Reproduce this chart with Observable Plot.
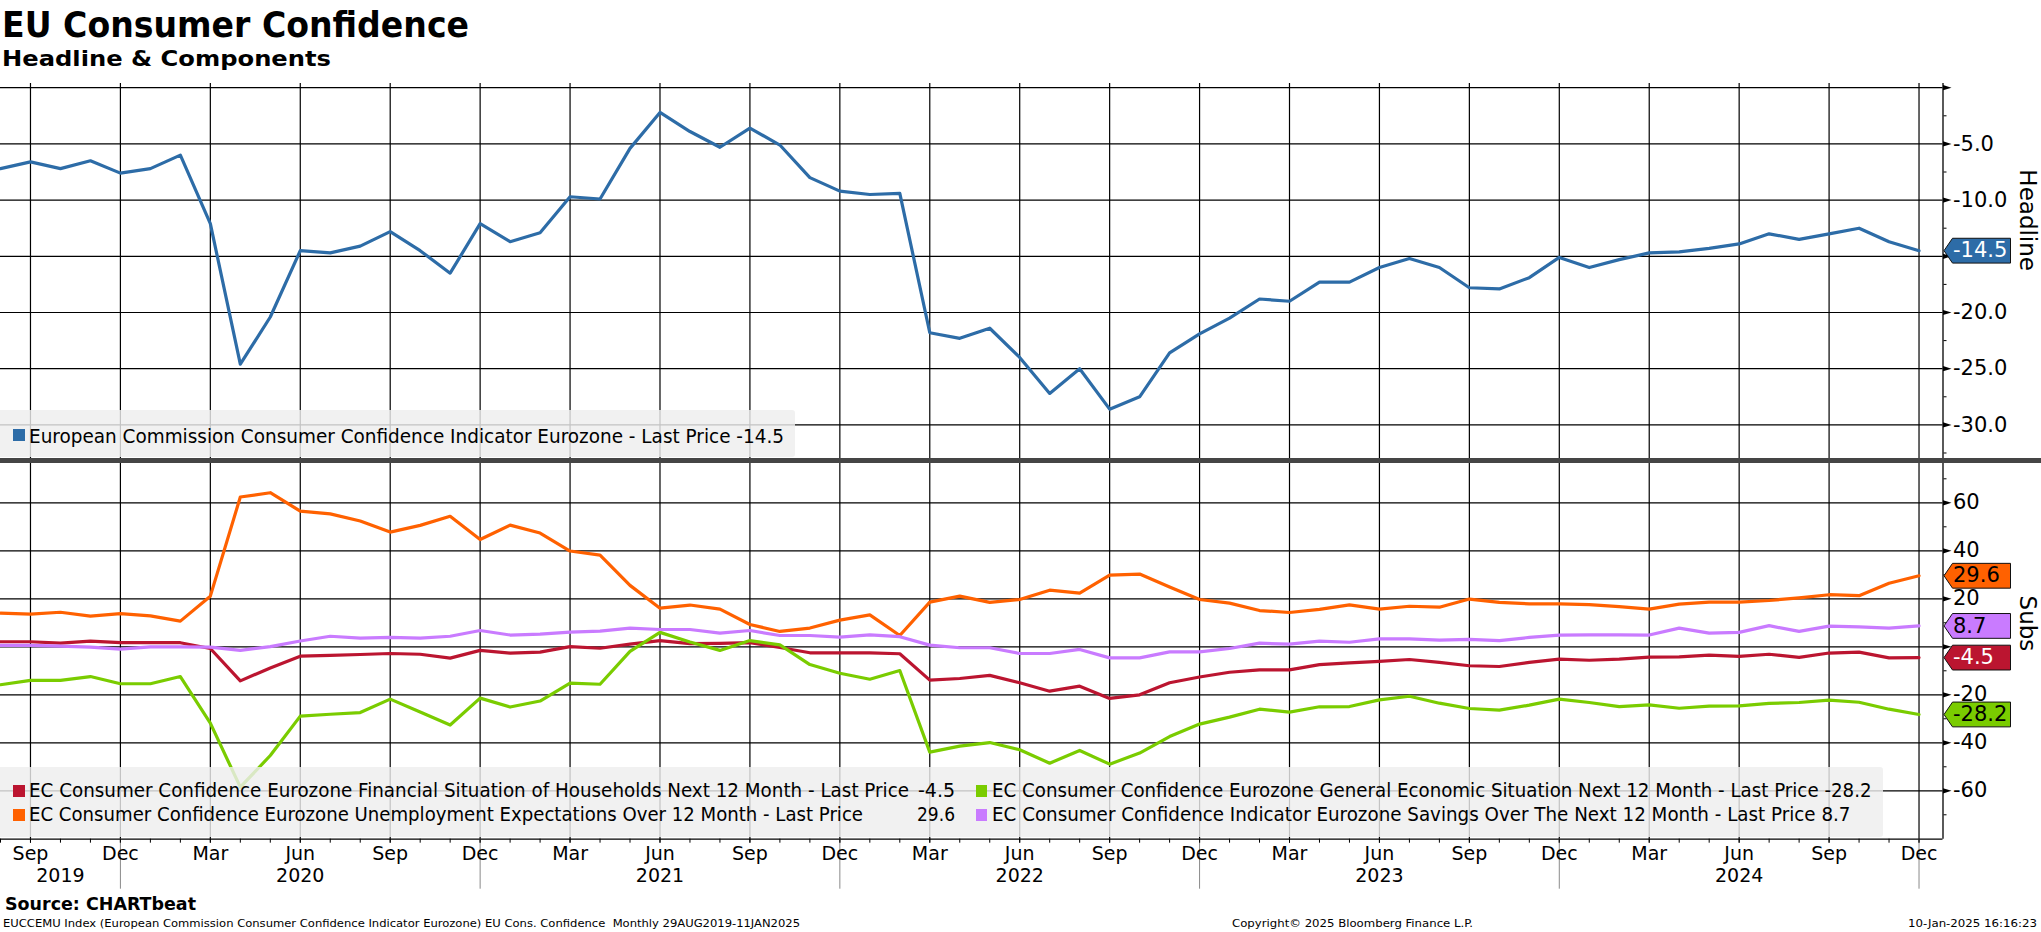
<!DOCTYPE html>
<html><head><meta charset="utf-8">
<script src="https://cdn.jsdelivr.net/npm/d3@7"></script>
<script src="https://cdn.jsdelivr.net/npm/@observablehq/plot@0.6"></script>
<style>
body{margin:0;background:#fff;}
#wrap{position:relative;width:2041px;height:932px;overflow:hidden;background:#fff;}
#wrap > *{position:absolute;}
.t{white-space:pre;transform-origin:0 0;color:#000;}
</style></head><body><div id="wrap"></div>
<script>
// ---------- DATA (monthly, Aug 2019 .. Dec 2024) ----------
const headline = [-7.2,-6.6,-7.2,-6.5,-7.6,-7.2,-6.0,-12.1,-24.6,-20.4,-14.5,-14.7,-14.1,-12.8,-14.5,-16.5,-12.1,-13.7,-12.9,-9.7,-9.9,-5.4,-2.2,-3.9,-5.3,-3.6,-5.1,-8.0,-9.2,-9.5,-9.4,-21.8,-22.3,-21.4,-24.0,-27.2,-25.0,-28.6,-27.5,-23.6,-21.9,-20.5,-18.8,-19.0,-17.3,-17.3,-16.0,-15.2,-16.0,-17.8,-17.9,-16.9,-15.1,-16.0,-15.3,-14.7,-14.6,-14.3,-13.9,-13.0,-13.5,-13.0,-12.5,-13.7,-14.5];
const financialSituation = [2.1,2.1,1.5,2.4,1.7,1.7,1.7,-0.7,-14.2,-8.8,-3.9,-3.6,-3.2,-2.8,-3.1,-4.7,-1.5,-2.6,-2.2,0.1,-0.6,1.1,2.6,1.3,1.4,1.7,-0.3,-2.5,-2.5,-2.5,-2.9,-13.9,-13.2,-11.9,-15.0,-18.5,-16.4,-21.5,-20.0,-15.0,-12.6,-10.6,-9.6,-9.6,-7.4,-6.7,-6.1,-5.3,-6.5,-7.9,-8.2,-6.5,-5.1,-5.6,-5.1,-4.3,-4.2,-3.5,-4.0,-3.1,-4.4,-2.6,-2.2,-4.6,-4.5];
const generalEconomic = [-15.8,-14.0,-14.0,-12.4,-15.4,-15.4,-12.4,-31.8,-58.5,-45.3,-28.9,-28.1,-27.4,-21.8,-27.2,-32.6,-21.4,-25.1,-22.6,-15.1,-15.6,-1.9,6.0,2.0,-1.5,2.6,0.8,-7.4,-11.0,-13.5,-9.9,-43.9,-41.4,-39.9,-42.9,-48.5,-43.2,-48.9,-44.3,-37.4,-32.2,-29.3,-26.0,-27.2,-25.0,-24.9,-22.1,-20.6,-23.5,-25.7,-26.4,-24.3,-21.8,-23.2,-24.9,-24.2,-25.6,-24.7,-24.6,-23.6,-23.2,-22.2,-23.1,-26.0,-28.2];
const unemploymentExpectations = [14.0,13.6,14.4,12.8,13.8,12.9,10.7,21.1,62.4,64.2,56.5,55.4,52.4,47.8,50.6,54.4,44.7,50.7,47.4,39.9,38.2,25.6,16.1,17.4,15.7,9.3,6.4,7.8,11.1,13.3,4.7,18.6,21.1,18.5,19.7,23.6,22.4,29.9,30.3,24.9,19.7,18.2,15.1,14.3,15.6,17.5,15.7,16.9,16.5,19.9,18.5,17.9,17.9,17.6,16.7,15.7,17.8,18.6,18.6,19.3,20.4,21.7,21.3,26.5,29.6];
const savings = [0.6,0.6,0.3,-0.1,-1.0,0.0,0.0,-0.1,-1.5,0.1,2.4,4.4,3.6,3.9,3.6,4.4,6.8,4.9,5.3,6.1,6.5,7.8,7.2,7.2,5.7,6.8,4.7,4.7,4.0,5.0,4.2,0.7,-0.4,-0.4,-2.8,-2.8,-1.1,-4.6,-4.6,-2.1,-2.1,-0.7,1.5,1.1,2.4,1.9,3.3,3.3,2.8,3.1,2.6,3.9,4.9,5.0,5.0,4.9,7.8,5.7,6.0,8.8,6.4,8.6,8.3,7.8,8.7];

const lastPrices = {headline:-14.5, financial:-4.5, general:-28.2, unemployment:29.6, savings:8.7};
const yearLabels = ["2019","2020","2021","2022","2023","2024"];
const topGridValues = [0,-5,-10,-15,-20,-25,-30];
const topTickLabels = [-5,-10,-20,-25,-30];
const topMinorTicks = [-2.5,-7.5,-12.5,-17.5,-22.5,-27.5,-32.5];
const bottomGridValues = [60,40,20,0,-20,-40,-60];
const bottomTickLabels = [60,40,20,-20,-40,-60];
const bottomMinorTicks = [70,50,30,10,-10,-30,-50,-70];

const legendTop = "European Commission Consumer Confidence Indicator Eurozone - Last Price -14.5";
const legendFin = "EC Consumer Confidence Eurozone Financial Situation of Households Next 12 Month - Last Price";
const legendUnemp = "EC Consumer Confidence Eurozone Unemployment Expectations Over 12 Month - Last Price";
const legendGen = "EC Consumer Confidence Eurozone General Economic Situation Next 12 Month - Last Price -28.2";
const legendSav = "EC Consumer Confidence Indicator Eurozone Savings Over The Next 12 Month - Last Price 8.7";

const C = {blue:"#2d6ca7", red:"#bb1530", green:"#7acc00", orange:"#ff6100", purple:"#c97bff"};

// ---------- helpers ----------
const months = d3.utcMonths(new Date(Date.UTC(2019,7,1)), new Date(Date.UTC(2025,0,1)));
const idx = months.map((d,i)=>i);
const quarterIdx = idx.filter(i => months[i].getUTCMonth() % 3 === 2);
const decIdx = idx.filter(i => months[i].getUTCMonth() === 11);
const yearCenter = new Map();
const yearCenters = yearLabels.map((y,k) => { const c = ((k===0?0:decIdx[k-1]) + decIdx[k]) / 2; yearCenter.set(c, y); return c; });
const xDomain = [0, 64.8];
const W = 2041, MR = 98.5;
const rows = arr => arr.map((v,i)=>({i, v}));

const arrowSym = {draw(ctx){ ctx.moveTo(0,-2.6); ctx.lineTo(8.5,0); ctx.lineTo(0,2.6); ctx.closePath(); }};
const badgeSym = {draw(ctx){ ctx.moveTo(1,0); ctx.lineTo(9.5,-12.4); ctx.lineTo(67.5,-12.4); ctx.lineTo(67.5,12.4); ctx.lineTo(9.5,12.4); ctx.closePath(); }};
const badge = (val, fill, textFill) => [
  Plot.dot([val], {y: d=>d, frameAnchor:"right", symbol: badgeSym, r: 4, fill, stroke:"#111", strokeWidth:1}),
  Plot.text([val], {y: d=>d, frameAnchor:"right", dx: 10, textAnchor:"start", text: d=>d.toFixed(1), fill: textFill, fontSize: 21})
];
const gridStyle = {stroke:"#000", strokeOpacity:1, strokeWidth:1.2};
const plotStyle = {fontFamily:"DejaVu Sans", fontSize:"21px", color:"#000", background:"transparent", overflow:"visible"};

// ---------- top panel ----------
const topPlot = Plot.plot({
  width: W, height: 400, marginLeft: 0, marginRight: MR, marginTop: 23, marginBottom: 2,
  style: plotStyle,
  x: {domain: xDomain, axis: null, label: null},
  y: {domain: [-32.99, 0.374], label: null},
  marks: [
    Plot.gridX(quarterIdx, gridStyle),
    Plot.gridY(topGridValues, gridStyle),
    Plot.ruleX([xDomain[1]], {stroke:"#000", strokeWidth:1.3}),
    Plot.line(rows(headline), {x:"i", y:"v", stroke:C.blue, strokeWidth:3.2, strokeLinejoin:"round"}),
    Plot.axisY({anchor:"right", ticks: topMinorTicks, tickSize: 3, tickFormat: () => "", label: null}),
    Plot.dot(topGridValues, {y: d=>d, frameAnchor:"right", symbol: arrowSym, r: 3, fill:"#000"}),
    Plot.axisY({anchor:"right", ticks: topTickLabels, tickSize: 0, tickPadding: 10, tickFormat: d => d.toFixed(1), fontSize: 21, label: null}),
    ...badge(lastPrices.headline, C.blue, "#fff"),
    Plot.text(["Headline"], {frameAnchor:"right", dx: 84, rotate: 90, fontSize: 23, text: d=>d})
  ]
});

// ---------- bottom panel ----------
const bottomPlot = Plot.plot({
  width: W, height: 472, marginLeft: 0, marginRight: MR, marginTop: 3, marginBottom: 93.3,
  style: plotStyle,
  x: {domain: xDomain, label: null},
  y: {domain: [-80.17, 76.375], label: null},
  marks: [
    Plot.gridX(quarterIdx, gridStyle),
    Plot.gridY(bottomGridValues, gridStyle),
    Plot.ruleX([xDomain[1]], {stroke:"#000", strokeWidth:1.3}),
    Plot.ruleY([-80.17], {stroke:"#000", strokeWidth:1.3}),
    Plot.line(rows(financialSituation), {x:"i", y:"v", stroke:C.red, strokeWidth:3.2, strokeLinejoin:"round"}),
    Plot.line(rows(generalEconomic), {x:"i", y:"v", stroke:C.green, strokeWidth:3.2, strokeLinejoin:"round"}),
    Plot.line(rows(unemploymentExpectations), {x:"i", y:"v", stroke:C.orange, strokeWidth:3.2, strokeLinejoin:"round"}),
    Plot.line(rows(savings), {x:"i", y:"v", stroke:C.purple, strokeWidth:3.2, strokeLinejoin:"round"}),
    Plot.axisY({anchor:"right", ticks: bottomMinorTicks, tickSize: 3, tickFormat: () => "", label: null}),
    Plot.dot(bottomGridValues, {y: d=>d, frameAnchor:"right", symbol: arrowSym, r: 3, fill:"#000"}),
    Plot.axisY({anchor:"right", ticks: bottomTickLabels, tickSize: 0, tickPadding: 10, tickFormat: d => String(d), fontSize: 21, dy: -1, label: null}),
    ...badge(lastPrices.unemployment, C.orange, "#000"),
    ...badge(lastPrices.savings, C.purple, "#000"),
    ...badge(lastPrices.financial, C.red, "#fff"),
    ...badge(lastPrices.general, C.green, "#000"),
    Plot.text(["Subs"], {frameAnchor:"right", dx: 84, rotate: 90, fontSize: 23, text: d=>d}),
    Plot.axisX({anchor:"bottom", ticks: idx, tickSize: 4, tickFormat: () => "", label: null}),
    Plot.axisX({anchor:"bottom", ticks: decIdx, tickSize: 50, stroke:"#8a8a8a", tickFormat: () => "", label: null}),
    Plot.axisX({anchor:"bottom", ticks: quarterIdx, tickSize: 4, tickPadding: 3, fontSize: 19, tickFormat: i => d3.utcFormat("%b")(months[i]), label: null}),
    Plot.axisX({anchor:"bottom", ticks: yearCenters, tickSize: 0, tickPadding: 29, fontSize: 19, tickFormat: d => yearCenter.get(d), label: null})
  ]
});

const wrap = document.getElementById("wrap");
topPlot.style.left = "0px"; topPlot.style.top = "60px";
bottomPlot.style.left = "0px"; bottomPlot.style.top = "460px";
wrap.appendChild(topPlot); wrap.appendChild(bottomPlot);

function box(x, y, w, h, bg, extra={}) {
  const d = document.createElement("div");
  Object.assign(d.style, {left:x+"px", top:y+"px", width:w+"px", height:h+"px", background:bg}, extra);
  wrap.appendChild(d); return d;
}
function txt(str, {x, base, size, width, weight=400, family="'Liberation Sans Narrow','DejaVu Sans Condensed','Liberation Sans',sans-serif", anchor="start", color="#000"}) {
  const el = document.createElement("div");
  el.className = "t"; el.textContent = str;
  Object.assign(el.style, {left:x+"px", top:(base - 0.846*size)+"px", fontSize:size+"px", lineHeight:size+"px", fontWeight:weight, fontFamily:family, color});
  wrap.appendChild(el);
  if (width) {
    const w = el.getBoundingClientRect().width;
    el.style.transform = `scaleX(${width / w})`;
    if (anchor === "end") el.style.left = (x - width) + "px";
  }
  return el;
}

// separator between panels
box(0, 458.3, W, 4.4, "#454545");

// title
txt("EU Consumer Confidence", {x:2, base:37.5, size:36, width:467, weight:700, family:"'DejaVu Sans',sans-serif"});
txt("Headline & Components", {x:2, base:67, size:22, width:329, weight:700, family:"'DejaVu Sans',sans-serif"});

// top legend
box(0, 410, 795, 47, "rgba(238,238,238,0.82)", {borderRadius:"0 3px 3px 0"});
box(13, 428.5, 11.5, 12, C.blue);
txt(legendTop, {x:29, base:442.5, size:20, width:755});

// bottom legend
box(0, 767, 1883, 70, "rgba(238,238,238,0.82)", {borderRadius:"0 3px 3px 0"});
box(13, 784.5, 11.5, 12, C.red);
txt(legendFin, {x:29, base:797.5, size:19, width:880});
txt(lastPrices.financial.toFixed(1), {x:955, base:797.5, size:19, width:37, anchor:"end"});
box(13, 809, 11.5, 12, C.orange);
txt(legendUnemp, {x:29, base:821.5, size:19, width:834});
txt(lastPrices.unemployment.toFixed(1), {x:955, base:821.5, size:19, width:38, anchor:"end"});
box(976, 784.5, 11, 12, C.green);
txt(legendGen, {x:991.5, base:797.5, size:19, width:879.5});
box(976, 809, 11, 12, C.purple);
txt(legendSav, {x:991.5, base:821.5, size:19, width:858.5});

// footer
txt("Source: CHARTbeat", {x:5, base:910, size:18, width:191, weight:700, family:"'DejaVu Sans',sans-serif"});
txt("EUCCEMU Index (European Commission Consumer Confidence Indicator Eurozone) EU Cons. Confidence  Monthly 29AUG2019-11JAN2025", {x:3, base:927.5, size:11, width:797});
txt("Copyright\u00a9 2025 Bloomberg Finance L.P.", {x:1232, base:927.5, size:11, width:241});
txt("10-Jan-2025 16:16:23", {x:2037, base:927.5, size:11, width:129, anchor:"end"});
</script></body></html>
